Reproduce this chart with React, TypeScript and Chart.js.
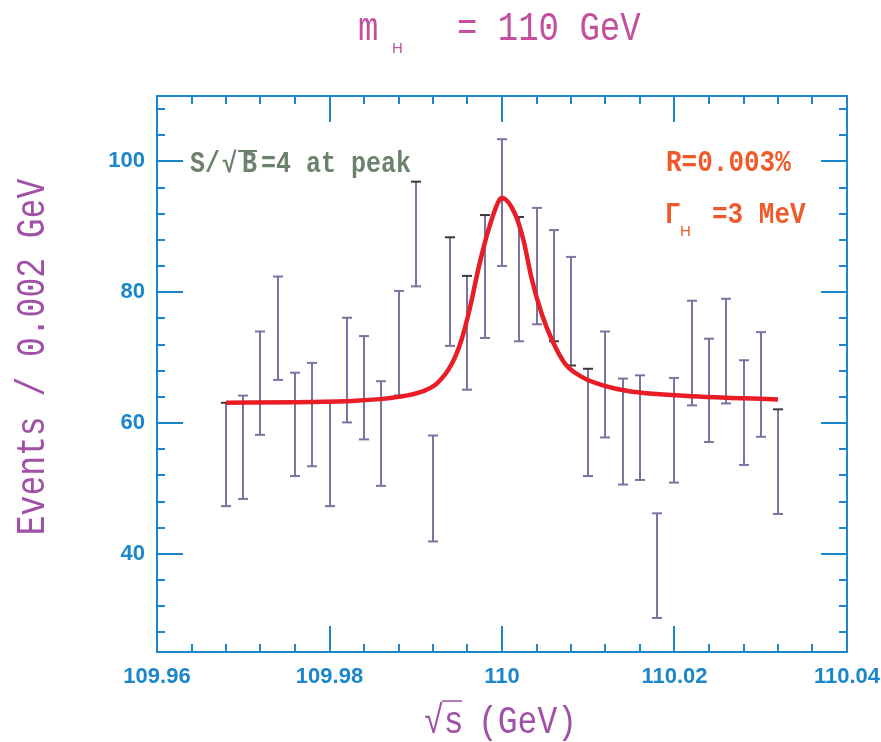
import React, { useEffect, useRef } from 'react';
import { Chart, registerables } from 'chart.js';

Chart.register(...registerables);

// ---------- data ----------
const energies = [
  109.968, 109.970, 109.972, 109.974, 109.976, 109.978, 109.980, 109.982, 109.984, 109.986,
  109.988, 109.990, 109.992, 109.994, 109.996, 109.998, 110.000, 110.002, 110.004, 110.006,
  110.008, 110.010, 110.012, 110.014, 110.016, 110.018, 110.020, 110.022, 110.024, 110.026,
  110.028, 110.030, 110.032,
];
const events = [
  55.2, 56.3, 66.1, 74.5, 59.8, 61.3, 55.2, 68.1, 65.4, 58.4,
  72.2, 88.9, 50.0, 80.1, 73.8, 82.4, 93.7, 82.0, 84.0, 81.0,
  77.1, 60.1, 65.9, 58.7, 59.3, 38.2, 58.9, 70.7, 65.0, 71.0,
  61.6, 65.9, 54.1,
];
const errors = [
  7.9, 7.9, 7.9, 7.9, 7.9, 7.9, 7.9, 8.0, 7.9, 8.0,
  8.0, 8.0, 8.1, 8.3, 8.7, 9.4, 9.7, 9.5, 8.9, 8.5,
  8.3, 8.2, 8.1, 8.1, 8.0, 8.0, 8.0, 8.0, 7.9, 8.0,
  8.0, 8.0, 8.0,
];
const fitEnergies = [
  109.968, 109.976, 109.983, 109.988, 109.9907, 109.9925, 109.9942, 109.9953, 109.9963,
  109.9973, 109.9984, 109.9998, 110.0, 110.0015, 110.0025, 110.0034, 110.0046, 110.0058,
  110.0073, 110.0092, 110.0116, 110.0146, 110.022, 110.028, 110.032,
];
const fitEvents = [
  63.1, 63.2, 63.4, 64.0, 64.8, 66.1, 69.1, 72.7, 77.7,
  83.8, 89.4, 94.3, 94.4, 92.0, 87.9, 82.3, 76.7, 72.7,
  69.1, 67.1, 65.8, 64.9, 64.1, 63.8, 63.6,
];
const xTickValues = [109.96, 109.98, 110, 110.02, 110.04];
const xTickLabels = ['109.96', '109.98', '110', '110.02', '110.04'];
const xMinorTicks = [
  109.964, 109.968, 109.972, 109.976, 109.984, 109.988, 109.992, 109.996,
  110.004, 110.008, 110.012, 110.016, 110.024, 110.028, 110.032, 110.036,
];
const yTickValues = [40, 60, 80, 100];
const yTickLabels = ['40', '60', '80', '100'];
const yMinorTicks = [28, 32, 36, 44, 48, 52, 56, 64, 68, 72, 76, 84, 88, 92, 96, 104, 108];

// caps drawn in a dark shade in the original
const darkTopCaps = [0, 11, 13, 14, 15, 17, 21, 32];
const darkBottomCaps = [10, 19, 20];

// ---------- styles ----------
const AXIS_BLUE = '#1b86c9';
const BAR_COLOR = '#7b74a2';
const DARK_CAP = '#3a3a3a';
const FIT_RED = '#e81d25';
const TITLE_PINK = '#c2509c';
const AXIS_PURPLE = '#a050a6';
const NOTE_GREEN = '#6c826c';
const NOTE_ORANGE = '#f05a2a';
const MONO = '"Liberation Mono", "DejaVu Sans Mono", monospace';
const SANS = '"Liberation Sans", Arial, sans-serif';

function drawText(
  ctx: CanvasRenderingContext2D,
  s: string,
  x: number,
  y: number,
  font: string,
  color: string,
  sy = 1,
  align: CanvasTextAlign = 'left',
) {
  ctx.save();
  ctx.font = font;
  ctx.fillStyle = color;
  ctx.textAlign = align;
  ctx.textBaseline = 'alphabetic';
  ctx.translate(x, y);
  ctx.scale(1, sy);
  ctx.fillText(s, 0, 0);
  ctx.restore();
}

const decoPlugin = {
  id: 'deco',
  beforeDatasetsDraw(chart: any) {
    const { ctx, chartArea } = chart;
    const x = chart.scales.x;
    const y = chart.scales.y;
    ctx.save();
    ctx.beginPath();
    ctx.rect(chartArea.left, chartArea.top, chartArea.right - chartArea.left, chartArea.bottom - chartArea.top);
    ctx.clip();
    ctx.lineWidth = 2;
    const cap = 5;
    energies.forEach((e, i) => {
      const px = Math.round(x.getPixelForValue(e));
      const yt = y.getPixelForValue(events[i] + errors[i]);
      const yb = y.getPixelForValue(events[i] - errors[i]);
      ctx.strokeStyle = BAR_COLOR;
      ctx.beginPath();
      ctx.moveTo(px, yt);
      ctx.lineTo(px, yb);
      ctx.stroke();
      ctx.strokeStyle = darkTopCaps.includes(i) ? DARK_CAP : BAR_COLOR;
      ctx.beginPath();
      ctx.moveTo(px - cap, yt);
      ctx.lineTo(px + cap, yt);
      ctx.stroke();
      ctx.strokeStyle = darkBottomCaps.includes(i) ? DARK_CAP : BAR_COLOR;
      ctx.beginPath();
      ctx.moveTo(px - cap, yb);
      ctx.lineTo(px + cap, yb);
      ctx.stroke();
    });
    ctx.restore();
  },
  afterDraw(chart: any) {
    const { ctx, chartArea } = chart;
    const x = chart.scales.x;
    const y = chart.scales.y;
    const { left, right, top, bottom } = chartArea;
    ctx.save();
    ctx.strokeStyle = AXIS_BLUE;
    ctx.lineWidth = 2;
    ctx.strokeRect(left, top, right - left, bottom - top);
    const major = 26;
    const minor = 8;
    const hTick = (py: number, len: number) => {
      ctx.beginPath();
      ctx.moveTo(left, py);
      ctx.lineTo(left + len, py);
      ctx.moveTo(right, py);
      ctx.lineTo(right - len, py);
      ctx.stroke();
    };
    const vTick = (px: number, len: number) => {
      ctx.beginPath();
      ctx.moveTo(px, bottom);
      ctx.lineTo(px, bottom - len);
      ctx.moveTo(px, top);
      ctx.lineTo(px, top + len);
      ctx.stroke();
    };
    yTickValues.forEach((v) => hTick(Math.round(y.getPixelForValue(v)), major));
    yMinorTicks.forEach((v) => hTick(Math.round(y.getPixelForValue(v)), minor));
    xTickValues.forEach((v) => vTick(Math.round(x.getPixelForValue(v)), major));
    xMinorTicks.forEach((v) => vTick(Math.round(x.getPixelForValue(v)), minor));
    ctx.restore();

    // title  m_H = 110 GeV
    drawText(ctx, 'm', 358, 40, `34px ${MONO}`, TITLE_PINK, 1.2);
    drawText(ctx, 'H', 392, 53, `15px ${SANS}`, TITLE_PINK);
    drawText(ctx, '= 110 GeV', 457, 40, `34px ${MONO}`, TITLE_PINK, 1.2);

    // y axis title
    ctx.save();
    ctx.translate(44, 357);
    ctx.rotate(-Math.PI / 2);
    drawText(ctx, 'Events / 0.002 GeV', 0, 0, `33px ${MONO}`, AXIS_PURPLE, 1.25, 'center');
    ctx.restore();

    // x axis title  √s (GeV)
    drawText(ctx, '\u221As', 424, 733, `33px ${MONO}`, AXIS_PURPLE, 1.2);
    drawText(ctx, '(GeV)', 478, 733, `33px ${MONO}`, AXIS_PURPLE, 1.2);
    ctx.save();
    ctx.strokeStyle = AXIS_PURPLE;
    ctx.lineWidth = 1.5;
    ctx.beginPath();
    ctx.moveTo(442, 701);
    ctx.lineTo(462, 701);
    ctx.stroke();
    ctx.restore();

    // S/√B = 4 at peak
    const nf = `bold 25px ${MONO}`;
    drawText(ctx, 'S/', 190, 172, nf, NOTE_GREEN, 1.15);
    drawText(ctx, '\u221A', 222, 172, nf, NOTE_GREEN, 1.15);
    drawText(ctx, 'B', 242, 172, nf, NOTE_GREEN, 1.15);
    drawText(ctx, '=4 at peak', 261, 172, nf, NOTE_GREEN, 1.15);
    ctx.save();
    ctx.strokeStyle = NOTE_GREEN;
    ctx.lineWidth = 2;
    ctx.beginPath();
    ctx.moveTo(238, 151);
    ctx.lineTo(257, 151);
    ctx.stroke();
    ctx.restore();

    // R and Gamma_H
    drawText(ctx, 'R=0.003%', 666, 171, `bold 26px ${MONO}`, NOTE_ORANGE, 1.1);
    drawText(ctx, '\u0393', 665, 223, `bold 26px ${MONO}`, NOTE_ORANGE, 1.1);
    drawText(ctx, 'H', 680, 236, `15px ${SANS}`, NOTE_ORANGE);
    drawText(ctx, '=3 MeV', 712, 223, `bold 26px ${MONO}`, NOTE_ORANGE, 1.1);
  },
};

export default function App() {
  const ref = useRef<HTMLCanvasElement | null>(null);
  useEffect(() => {
    if (!ref.current) return;
    const chart = new Chart(ref.current, {
      type: 'scatter',
      data: {
        datasets: [
          {
            label: 'fit',
            data: fitEnergies.map((e, i) => ({ x: e, y: fitEvents[i] })),
            showLine: true,
            borderColor: FIT_RED,
            borderWidth: 4.5,
            pointRadius: 0,
            cubicInterpolationMode: 'monotone',
            order: 0,
          },
          {
            label: 'data',
            data: energies.map((e, i) => ({ x: e, y: events[i] })),
            pointRadius: 0,
            showLine: false,
            order: 1,
          },
        ],
      },
      options: {
        responsive: false,
        animation: false,
        devicePixelRatio: 1,
        layout: { padding: { top: 96, right: 34, left: 0, bottom: 0 } },
        plugins: { legend: { display: false }, tooltip: { enabled: false }, title: { display: false } },
        scales: {
          x: {
            type: 'linear',
            min: 109.96,
            max: 110.04,
            grid: { display: false, drawTicks: false },
            border: { display: false },
            afterBuildTicks: (s: any) => {
              s.ticks = xTickValues.map((v) => ({ value: v }));
            },
            afterFit: (s: any) => {
              s.height = 90;
              s.paddingLeft = 0;
              s.paddingRight = 0;
            },
            ticks: {
              autoSkip: false,
              maxRotation: 0,
              padding: 12,
              color: AXIS_BLUE,
              font: { family: SANS, size: 22, weight: 'bold' },
              callback: (_v: any, i: number) => xTickLabels[i],
            },
          },
          y: {
            type: 'linear',
            min: 25,
            max: 110,
            grid: { display: false, drawTicks: false },
            border: { display: false },
            afterBuildTicks: (s: any) => {
              s.ticks = yTickValues.map((v) => ({ value: v }));
            },
            afterFit: (s: any) => {
              s.width = 157;
              s.paddingTop = 0;
              s.paddingBottom = 0;
            },
            ticks: {
              autoSkip: false,
              padding: 12,
              color: AXIS_BLUE,
              font: { family: SANS, size: 22, weight: 'bold' },
              callback: (_v: any, i: number) => yTickLabels[i],
            },
          },
        },
      },
      plugins: [decoPlugin],
    } as any);
    return () => chart.destroy();
  }, []);
  return (
    <div style={{ position: 'fixed', left: 0, top: 0, width: 881, height: 742, background: '#fff' }}>
      <canvas ref={ref} width={881} height={742} style={{ display: 'block', width: 881, height: 742 }} />
    </div>
  );
}
